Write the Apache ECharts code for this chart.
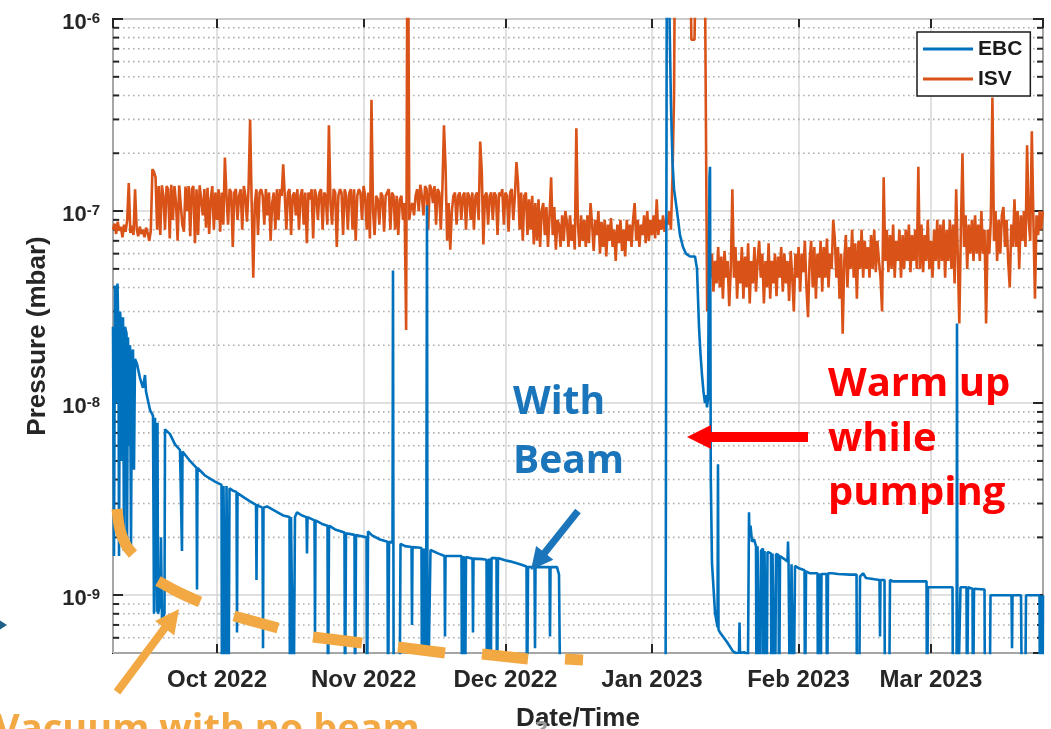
<!DOCTYPE html>
<html>
<head>
<meta charset="utf-8">
<script src="https://cdn.jsdelivr.net/npm/echarts@6/dist/echarts.min.js"></script>
<style>
  html, body { margin: 0; padding: 0; background: #fff; }
  #chart { width: 1051px; height: 729px; }
</style>
</head>
<body>
<div id="chart"></div>
<script>
// Vacuum pressure log, Sep 2022 - Mar 2023: EBC and ISV gauges (mbar)
const DAY = 86400000;
const T0 = new Date(2022, 8, 9).getTime();   // start of the record
const SPAN_DAYS = 196.7;
const ISV_STEP_DAYS = 1 / 3;                 // ISV log sampled every 8 h

const seriesNames = ['EBC', 'ISV'];
const monthNames = ['Jan', 'Feb', 'Mar', 'Apr', 'May', 'Jun', 'Jul', 'Aug', 'Sep', 'Oct', 'Nov', 'Dec'];
const minorTickValues = [
  6e-10, 7e-10, 8e-10, 9e-10,
  2e-9, 3e-9, 4e-9, 5e-9, 6e-9, 7e-9, 8e-9, 9e-9,
  2e-8, 3e-8, 4e-8, 5e-8, 6e-8, 7e-8, 8e-8, 9e-8,
  2e-7, 3e-7, 4e-7, 5e-7, 6e-7, 7e-7, 8e-7, 9e-7
];

// ISV pressure, one reading per 8 h from the start of the record
const isvValues = [
  8.0e-8, 8.6e-8, 7.6e-8, 8.8e-8, 7.9e-8, 8.3e-8, 7.3e-8, 8.5e-8, 7.8e-8, 9.0e-8,
  1.4e-7, 7.7e-8, 8.4e-8, 7.5e-8, 1.3e-7, 8.1e-8, 7.4e-8, 8.3e-8, 7.6e-8, 8.0e-8,
  7.3e-8, 8.2e-8, 7.7e-8, 7.0e-8, 7.9e-8, 1.65e-7, 1.6e-7, 1.5e-7, 8.0e-8, 1.35e-7,
  7.5e-8, 1.36e-7, 1.2e-7, 8.0e-8, 1.35e-7, 1.3e-7, 7.2e-8, 1.37e-7, 9.0e-8, 1.35e-7,
  1.1e-7, 7.0e-8, 1.36e-7, 1.35e-7, 8.5e-8, 7.8e-8, 1.34e-7, 1.0e-7, 1.35e-7, 7.4e-8,
  1.3e-7, 1.35e-7, 6.8e-8, 1.3e-7, 7.5e-8, 1.36e-7, 1.35e-7, 9.5e-8, 1.3e-7, 8.2e-8,
  1.32e-7, 7.6e-8, 1.15e-7, 1.35e-7, 8.0e-8, 1.25e-7, 9.0e-8, 1.3e-7, 7.8e-8, 1.25e-7,
  8.5e-8, 1.9e-7, 1.2e-7, 8.5e-8, 1.3e-7, 1.25e-7, 6.5e-8, 1.25e-7, 1.3e-7, 9.0e-8,
  1.2e-7, 1.3e-7, 8.0e-8, 1.35e-7, 1.2e-7, 8.8e-8, 1.3e-7, 3.0e-7, 1.1e-7, 4.5e-8,
  1.1e-7, 1.3e-7, 7.5e-8, 1.25e-7, 1.3e-7, 1.2e-7, 8.5e-8, 1.3e-7, 9.5e-8, 1.25e-7,
  7.0e-8, 1.1e-7, 1.25e-7, 8.0e-8, 1.3e-7, 9.0e-8, 1.3e-7, 1.2e-7, 1.75e-7, 1.2e-7,
  8.0e-8, 1.25e-7, 1.3e-7, 7.5e-8, 1.2e-7, 1.25e-7, 9.5e-8, 1.3e-7, 8.0e-8, 1.2e-7,
  1.3e-7, 8.5e-8, 1.25e-7, 6.8e-8, 1.25e-7, 1.15e-7, 1.3e-7, 7.2e-8, 1.3e-7, 1.2e-7,
  9.0e-8, 1.25e-7, 1.3e-7, 8.0e-8, 1.25e-7, 1.2e-7, 8.5e-8, 2.8e-7, 1.1e-7, 8.5e-8,
  1.3e-7, 1.25e-7, 6.5e-8, 1.2e-7, 1.3e-7, 1.25e-7, 7.5e-8, 1.3e-7, 1.2e-7, 8.0e-8,
  1.25e-7, 1.3e-7, 8.0e-8, 1.3e-7, 7.0e-8, 1.2e-7, 1.3e-7, 1.25e-7, 9.0e-8, 1.35e-7,
  1.2e-7, 8.0e-8, 1.25e-7, 7.2e-8, 3.8e-7, 1.0e-7, 7.5e-8, 1.2e-7, 1.15e-7, 8.5e-8,
  1.25e-7, 1.2e-7, 7.8e-8, 1.2e-7, 1.25e-7, 1.3e-7, 8.0e-8, 1.25e-7, 1.2e-7, 8.0e-8,
  1.2e-7, 7.5e-8, 1.15e-7, 1.2e-7, 9.0e-8, 1.1e-7, 2.4e-8, 1.0e-5, 9.0e-8, 1.05e-7,
  1.1e-7, 9.5e-8, 1.2e-7, 1.3e-7, 1.0e-7, 1.37e-7, 1.2e-7, 9.5e-8, 1.35e-7, 1.3e-7,
  8.0e-8, 1.37e-7, 1.3e-7, 1.1e-7, 1.35e-7, 8.5e-8, 1.3e-7, 1.25e-7, 8.0e-8, 1.3e-7,
  2.8e-7, 1.7e-7, 7.0e-8, 1.1e-7, 6.3e-8, 1.0e-7, 1.2e-7, 1.25e-7, 8.5e-8, 1.2e-7,
  1.25e-7, 9.0e-8, 1.2e-7, 1.25e-7, 8.0e-8, 1.25e-7, 1.2e-7, 9.0e-8, 1.25e-7, 8.0e-8,
  1.2e-7, 1.25e-7, 9.0e-8, 2.3e-7, 1.6e-7, 6.7e-8, 1.2e-7, 1.25e-7, 8.5e-8, 1.2e-7,
  1.25e-7, 9.0e-8, 1.25e-7, 1.2e-7, 7.5e-8, 1.25e-7, 1.2e-7, 1.3e-7, 8.5e-8, 1.25e-7,
  1.2e-7, 7.8e-8, 1.25e-7, 1.3e-7, 9.0e-8, 1.2e-7, 1.8e-7, 1.4e-7, 8.0e-8, 1.25e-7,
  7.0e-8, 1.2e-7, 1.25e-7, 7.5e-8, 1.15e-7, 8.0e-8, 1.2e-7, 6.7e-8, 1.1e-7, 7.0e-8,
  1.15e-7, 6.5e-8, 1.0e-7, 1.1e-7, 7.5e-8, 1.05e-7, 6.5e-8, 9.5e-8, 1.5e-7, 7.5e-8,
  1.05e-7, 6.3e-8, 9.0e-8, 8.5e-8, 6.5e-8, 9.5e-8, 7.0e-8, 1.0e-7, 8.8e-8, 6.5e-8,
  9.5e-8, 7.0e-8, 8.5e-8, 6.3e-8, 2.7e-7, 8.5e-8, 6.5e-8, 9.5e-8, 7.0e-8, 9.0e-8,
  6.5e-8, 9.5e-8, 6.8e-8, 1.1e-7, 8.5e-8, 6.2e-8, 9.0e-8, 7.5e-8, 1.0e-7, 6.0e-8,
  8.8e-8, 6.5e-8, 9.0e-8, 5.8e-8, 8.5e-8, 7.0e-8, 9.2e-8, 6.5e-8, 8.0e-8, 5.5e-8,
  8.5e-8, 6.8e-8, 9.0e-8, 6.2e-8, 8.0e-8, 5.8e-8, 9.0e-8, 7.0e-8, 8.5e-8, 6.5e-8,
  9.0e-8, 1.1e-7, 7.0e-8, 9.0e-8, 6.5e-8, 8.5e-8, 7.5e-8, 9.5e-8, 6.8e-8, 1.0e-7,
  7.0e-8, 9.0e-8, 7.5e-8, 9.5e-8, 7.2e-8, 1.15e-7, 7.5e-8, 9.0e-8, 8.0e-8, 9.5e-8,
  7.8e-8, 9.0e-8, 8.5e-8, 1.0e-7, 8.0e-8, 1.5e-7, 4.0e-7, 1.0e-5, 1.0e-5, 1.0e-5,
  1.0e-5, 1.0e-5, 1.0e-5, 1.0e-5, 1.0e-5, 1.0e-5, 1.0e-5, 7.8e-7, 7.8e-7, 7.8e-7,
  7.8e-7, 1.0e-5, 1.0e-5, 1.0e-5, 1.0e-5, 1.0e-5, 1.0e-5, 3.0e-8, 5.5e-8, 4.5e-8,
  6.0e-8, 3.8e-8, 5.5e-8, 4.2e-8, 6.5e-8, 4.0e-8, 5.8e-8, 3.5e-8, 6.2e-8, 4.5e-8,
  5.5e-8, 3.2e-8, 5.0e-8, 1.3e-7, 4.5e-8, 6.5e-8, 3.5e-8, 5.5e-8, 4.2e-8, 6.5e-8,
  3.5e-8, 5.8e-8, 4.0e-8, 6.8e-8, 3.3e-8, 5.5e-8, 4.2e-8, 6.5e-8, 3.8e-8, 5.5e-8,
  7.0e-8, 4.5e-8, 6.0e-8, 3.3e-8, 5.5e-8, 4.0e-8, 6.8e-8, 3.5e-8, 5.5e-8, 4.2e-8,
  6.0e-8, 3.6e-8, 5.8e-8, 4.5e-8, 6.5e-8, 3.8e-8, 6.0e-8, 4.2e-8, 5.5e-8, 3.4e-8,
  6.2e-8, 4.5e-8, 3.0e-8, 6.0e-8, 4.5e-8, 6.5e-8, 3.8e-8, 6.0e-8, 4.8e-8, 7.0e-8,
  4.0e-8, 2.8e-8, 5.5e-8, 7.0e-8, 4.0e-8, 6.5e-8, 3.5e-8, 6.0e-8, 4.5e-8, 7.0e-8,
  3.8e-8, 6.5e-8, 4.5e-8, 7.2e-8, 4.0e-8, 6.0e-8, 5.0e-8, 9.0e-8, 7.2e-8, 4.5e-8,
  6.5e-8, 3.5e-8, 6.0e-8, 2.3e-8, 5.5e-8, 7.5e-8, 4.0e-8, 6.5e-8, 5.0e-8, 8.0e-8,
  4.5e-8, 6.8e-8, 3.5e-8, 7.0e-8, 5.0e-8, 8.0e-8, 4.5e-8, 7.0e-8, 5.0e-8, 6.5e-8,
  4.5e-8, 7.5e-8, 5.0e-8, 8.0e-8, 4.8e-8, 7.0e-8, 5.5e-8, 4.5e-8, 3.0e-8, 1.5e-7,
  5.5e-8, 8.0e-8, 4.8e-8, 7.5e-8, 5.0e-8, 8.5e-8, 4.5e-8, 7.0e-8, 5.5e-8, 8.0e-8,
  4.5e-8, 7.5e-8, 5.0e-8, 8.0e-8, 5.5e-8, 8.5e-8, 4.8e-8, 7.5e-8, 5.5e-8, 8.0e-8,
  5.0e-8, 1.7e-7, 5.0e-8, 8.5e-8, 4.8e-8, 7.5e-8, 5.5e-8, 9.0e-8, 5.0e-8, 7.0e-8,
  4.5e-8, 8.0e-8, 5.5e-8, 9.0e-8, 5.0e-8, 8.5e-8, 5.5e-8, 9.0e-8, 4.5e-8, 8.0e-8,
  5.5e-8, 9.0e-8, 5.0e-8, 8.5e-8, 4.2e-8, 1.3e-7, 6.0e-8, 2.6e-8, 8.0e-8, 2.0e-7,
  6.5e-8, 9.5e-8, 5.0e-8, 8.5e-8, 6.0e-8, 9.0e-8, 5.5e-8, 9.5e-8, 6.0e-8, 8.5e-8,
  5.5e-8, 1.0e-7, 6.0e-8, 8.0e-8, 2.6e-8, 8.0e-8, 6.0e-8, 9.0e-8, 3.9e-7, 7.0e-8,
  1.0e-7, 5.5e-8, 9.0e-8, 6.0e-8, 9.5e-8, 1.05e-7, 6.5e-8, 9.0e-8, 5.5e-8, 4.0e-8,
  8.5e-8, 6.5e-8, 1.15e-7, 6.5e-8, 1.0e-7, 5.0e-8, 9.5e-8, 7.0e-8, 1.0e-7, 6.5e-8,
  2.2e-7, 9.0e-8, 7.0e-8, 2.6e-7, 9.0e-8, 3.5e-8, 9.5e-8, 7.5e-8, 1.0e-7, 8.0e-8,
  1.0e-7
];

// EBC pressure as [days since start, mbar]; 2e-10 marks readings below the scale
const ebcPoints = [
  [0, 2.5e-8], [0.21, 1.6e-9], [0.42, 4.1e-8], [0.74, 1.0e-8], [0.95, 4.2e-8], [1.16, 2.2e-8],
  [1.27, 1.6e-9], [1.48, 3.0e-8], [1.69, 2.6e-8], [1.90, 5e-9], [2.12, 2.8e-8], [2.33, 1.7e-9],
  [2.54, 2.5e-8], [2.86, 2.3e-8], [2.96, 1.7e-9], [3.17, 2.2e-8], [3.38, 6e-9], [3.60, 2.0e-8],
  [3.81, 1.8e-9], [4.02, 1.8e-8], [4.23, 1.9e-8], [4.44, 4.5e-9], [4.65, 1.7e-8], [5.08, 1.6e-8],
  [5.71, 1.35e-8], [6.35, 1.2e-8], [6.77, 1.4e-8], [6.98, 1.15e-8], [7.83, 9.2e-9], [8.46, 8.6e-9],
  [8.67, 8.0e-10], [8.88, 8.4e-9], [9.31, 8.2e-10], [9.41, 7.9e-9], [9.52, 8e-10], [9.94, 9e-10],
  [10.15, 2e-9], [10.36, 7.5e-10], [10.89, 8e-10], [11.00, 7.3e-9], [12.06, 6.9e-9], [13.11, 6.1e-9],
  [14.17, 5.7e-9], [14.49, 5.6e-9], [14.59, 1.7e-9], [14.70, 5.6e-9], [16.29, 5.0e-9], [17.66, 4.6e-9],
  [17.77, 1.07e-9], [17.87, 4.6e-9], [19.46, 4.2e-9], [21.57, 3.9e-9], [22.95, 3.75e-9], [23.05, 2e-10],
  [23.37, 3.7e-9], [23.79, 2e-10], [24.01, 3.7e-9], [24.43, 2e-10], [24.64, 3.6e-9], [25.38, 3.5e-9],
  [26.12, 3.45e-9], [26.23, 6.4e-10], [26.33, 3.4e-9], [27.92, 3.2e-9], [28.98, 3.08e-9], [30.25, 2.95e-9],
  [30.35, 1.2e-9], [30.46, 2.95e-9], [31.62, 2.85e-9], [31.73, 5.3e-10], [31.83, 2.85e-9], [32.57, 2.9e-9],
  [34.26, 2.75e-9], [35.96, 2.6e-9], [37.33, 2.55e-9], [37.44, 2e-10], [37.65, 2.55e-9], [38.18, 2e-10],
  [38.49, 2.55e-9], [38.92, 2.7e-9], [39.98, 2.6e-9], [40.93, 2.55e-9], [41.03, 1.65e-9], [41.14, 2.55e-9],
  [42.62, 2.45e-9], [42.73, 6.1e-10], [42.83, 2.45e-9], [44.21, 2.35e-9], [45.37, 2.3e-9], [45.47, 2e-10],
  [45.69, 2.3e-9], [46.96, 2.2e-9], [48.96, 2.12e-9], [49.07, 2e-10], [49.28, 2.1e-9], [51.08, 2.06e-9],
  [51.19, 2e-10], [51.40, 2.06e-9], [53.62, 2.0e-9], [53.72, 2e-10], [53.94, 2.15e-9], [54.78, 2.05e-9],
  [56.47, 1.95e-9], [58.06, 1.9e-9], [58.17, 2e-10], [58.38, 1.9e-9], [59.12, 1.88e-9], [59.22, 4.9e-8],
  [59.37, 2e-10], [60.60, 2e-10], [60.81, 1.85e-9], [61.76, 1.8e-9], [63.14, 1.78e-9], [63.24, 7.0e-10],
  [63.35, 1.78e-9], [64.51, 1.77e-9], [65.25, 1.76e-9], [65.36, 2e-10], [65.78, 1.75e-9], [66.10, 1.75e-9],
  [66.20, 2e-10], [66.41, 1.07e-7], [66.54, 2e-10], [66.94, 2e-10], [67.15, 1.72e-9], [68.74, 1.65e-9],
  [70.12, 1.6e-9], [70.22, 6.1e-10], [70.33, 1.6e-9], [72.34, 1.6e-9], [73.71, 1.6e-9], [73.82, 2e-10],
  [74.13, 1.6e-9], [74.45, 2e-10], [74.66, 1.58e-9], [76.04, 1.55e-9], [76.14, 6.4e-10], [76.25, 1.55e-9],
  [78.26, 1.54e-9], [79.00, 1.53e-9], [79.10, 2e-10], [79.53, 1.55e-9], [79.85, 2e-10], [80.06, 1.56e-9],
  [81.11, 1.56e-9], [81.22, 2e-10], [81.43, 1.56e-9], [82.91, 1.52e-9], [83.97, 1.5e-9], [86.08, 1.45e-9],
  [87.46, 1.41e-9], [87.57, 2e-10], [87.78, 1.4e-9], [89.15, 1.4e-9], [89.26, 5.3e-10], [89.36, 1.4e-9],
  [92.32, 1.4e-9], [92.43, 6.1e-10], [92.54, 1.4e-9], [93.91, 1.4e-9], [94.33, 1.28e-9], [94.65, 2e-10],
  [116.86, 2e-10], [117.18, 1e-5], [117.71, 1e-6], [118.02, 3.5e-7], [118.34, 1.8e-7], [118.66, 1.3e-7],
  [119.29, 1.0e-7], [119.92, 7.5e-8], [120.56, 6.5e-8], [121.19, 6.0e-8], [122.04, 5.8e-8], [123.10, 5.8e-8],
  [123.52, 5.0e-8], [123.94, 2.5e-8], [124.26, 1.8e-8], [124.58, 1.4e-8], [124.89, 1.15e-8], [125.21, 1.0e-8],
  [125.42, 1.1e-8], [125.63, 9.5e-9], [125.85, 1.05e-8], [126.16, 1.5e-7], [126.27, 1.7e-7], [126.44, 4.0e-9],
  [126.69, 1.47e-9], [127.33, 8.1e-10], [127.86, 6.8e-10], [127.96, 4.8e-9], [128.07, 6.6e-10], [128.38, 6.4e-10],
  [129.86, 5.7e-10], [131.13, 5.1e-10], [131.76, 5.0e-10], [132.40, 5.0e-10], [132.51, 7.2e-10], [132.62, 5.0e-10],
  [133.46, 5.05e-10], [134.31, 4.9e-10], [134.52, 2.7e-9], [134.62, 2.0e-9], [134.84, 2.3e-9], [135.15, 1.9e-9],
  [135.58, 1.95e-9], [136.00, 1.8e-9], [136.11, 2e-10], [136.32, 1.8e-9], [136.85, 2e-10], [137.06, 1.7e-9],
  [137.48, 1.75e-9], [137.59, 2e-10], [137.80, 1.7e-9], [138.22, 2e-10], [138.43, 1.68e-9], [139.17, 1.65e-9],
  [139.28, 2e-10], [139.49, 1.65e-9], [140.02, 2e-10], [140.23, 1.64e-9], [140.76, 1.62e-9], [140.87, 2e-10],
  [141.08, 1.6e-9], [142.66, 1.5e-9], [142.77, 1.9e-9], [142.88, 1.5e-9], [143.19, 2e-10], [143.51, 1.45e-9],
  [143.93, 2e-10], [144.25, 1.42e-9], [145.09, 1.38e-9], [146.26, 1.35e-9], [146.36, 2e-10], [146.58, 1.33e-9],
  [147.42, 1.3e-9], [149.01, 1.3e-9], [149.11, 2e-10], [149.43, 1.3e-9], [149.64, 2e-10], [149.85, 1.29e-9],
  [150.91, 1.29e-9], [151.02, 2e-10], [151.23, 1.3e-9], [152.07, 1.3e-9], [153.34, 1.29e-9], [155.88, 1.28e-9],
  [157.26, 1.28e-9], [157.36, 2e-10], [157.79, 2e-10], [158.00, 1.25e-9], [158.63, 1.3e-9], [159.27, 1.23e-9],
  [162.12, 1.2e-9], [162.23, 6.1e-10], [162.33, 1.2e-9], [163.18, 1.2e-9], [163.28, 2e-10], [164.13, 2e-10],
  [164.34, 1.2e-9], [164.98, 1.18e-9], [172.06, 1.18e-9], [172.17, 2e-10], [172.38, 1.1e-9], [177.56, 1.1e-9],
  [177.67, 2e-10], [178.41, 2e-10], [178.51, 2.6e-8], [178.62, 2e-10], [179.04, 2e-10], [179.25, 1.1e-9],
  [180.52, 1.1e-9], [180.63, 2e-10], [180.84, 1.1e-9], [181.79, 1.08e-9], [181.90, 2e-10], [182.11, 1.08e-9],
  [184.33, 1.07e-9], [184.43, 2e-10], [185.39, 2e-10], [185.60, 1.0e-9], [190.04, 1.0e-9], [190.15, 5.3e-10],
  [190.25, 1.0e-9], [192.05, 1.0e-9], [192.26, 2e-10], [192.90, 2e-10], [193.11, 1.0e-9], [195.96, 1.0e-9],
  [196.07, 2e-10], [196.28, 1.0e-9], [196.60, 2e-10], [196.70, 1.0e-9]
];

const FONT = 'Liberation Sans';
const INK = '#262626';
const EBC_COLOR = '#0072BD';
const ISV_COLOR = '#D95319';
const NOTE_FONT = '"Open Sans"';
const ORANGE = '#F2A843';
const LINE_W = 2.6;

const xMin = T0;
const xMax = T0 + SPAN_DAYS * DAY;

const isvData = isvValues.map((v, i) => [T0 + i * ISV_STEP_DAYS * DAY, v]);
const ebcData = ebcPoints.map(([d, v]) => [T0 + d * DAY, v]);
const minorData = minorTickValues.map(v => [xMin, v]);

function monthLabel(value) {
  const d = new Date(value);
  return monthNames[d.getMonth()] + ' ' + d.getFullYear();
}

function decadeLabel(value) {
  const e = Math.log10(value);
  const r = Math.round(e);
  if (Math.abs(e - r) > 1e-6) return '';
  return '{b|10}{s|' + r + '}';
}

// dotted minor grid plus short inner ticks on both sides of the log axis
function renderMinor(params, api) {
  const y = api.coord([api.value(0), api.value(1)])[1];
  const cs = params.coordSys;
  const x0 = cs.x, x1 = cs.x + cs.width;
  return {
    type: 'group',
    children: [
      { type: 'line', shape: { x1: x0, y1: y, x2: x1, y2: y },
        style: { stroke: '#b0b0b0', lineWidth: 1.6, lineDash: [1.6, 3.4] } },
      { type: 'line', shape: { x1: x0, y1: y, x2: x0 + 6, y2: y },
        style: { stroke: INK, lineWidth: 2 } },
      { type: 'line', shape: { x1: x1 - 6, y1: y, x2: x1, y2: y },
        style: { stroke: INK, lineWidth: 2 } }
    ]
  };
}

function arrowPoints(x1, y1, x2, y2, shaft, headLen, headW) {
  const dx = x2 - x1, dy = y2 - y1, len = Math.hypot(dx, dy);
  const ux = dx / len, uy = dy / len, nx = -uy, ny = ux;
  const bx = x2 - ux * headLen, by = y2 - uy * headLen;
  const s = shaft / 2, h = headW / 2;
  return [
    [x1 + nx * s, y1 + ny * s], [bx + nx * s, by + ny * s], [bx + nx * h, by + ny * h],
    [x2, y2],
    [bx - nx * h, by - ny * h], [bx - nx * s, by - ny * s], [x1 - nx * s, y1 - ny * s]
  ];
}

// hand-drawn dashed trace marking the pressure floor without beam
const noBeamDashes = [
  [[117, 509], [120, 530], [126, 545], [133, 554]],
  [[158, 581], [178, 592], [200, 602]],
  [[234, 616], [278, 628]],
  [[313, 637], [362, 643]],
  [[398, 647], [445, 653]],
  [[482, 654], [528, 659]],
  [[565, 659], [583, 660]]
];

const textStyleBase = { fontFamily: FONT, fontWeight: 'bold', color: INK };

const option = {
  animation: false,
  backgroundColor: '#ffffff',
  grid: {
    left: 113, top: 19, right: 8, bottom: 76,
    outerBoundsMode: 'none',
    containLabel: false,
    show: true, borderColor: '#1a1a1a', borderWidth: 2, backgroundColor: '#ffffff'
  },
  legend: {
    data: seriesNames,
    orient: 'vertical',
    left: 917, top: 32,
    padding: [5, 8, 5, 6],
    itemGap: 6,
    icon: 'rect',
    itemWidth: 50,
    itemHeight: 3,
    backgroundColor: '#ffffff',
    borderColor: '#1a1a1a',
    borderWidth: 1.5,
    borderRadius: 0,
    textStyle: { fontFamily: FONT, fontWeight: 'bold', fontSize: 21, color: '#1a1a1a', lineHeight: 24 }
  },
  xAxis: [
    {
      type: 'time',
      min: xMin, max: xMax,
      minInterval: 28 * DAY, maxInterval: 31 * DAY,
      name: 'Date/Time',
      nameLocation: 'middle',
      nameGap: 53,
      nameTextStyle: Object.assign({ fontSize: 26 }, textStyleBase),
      axisLine: { show: false },
      axisTick: { show: true, inside: true, length: 9, lineStyle: { color: INK, width: 2 } },
      axisLabel: Object.assign({
        fontSize: 24, margin: 15, hideOverlap: false,
        showMinLabel: false, showMaxLabel: false,
        formatter: monthLabel
      }, textStyleBase),
      splitLine: { show: true, lineStyle: { color: '#d6d6d6', width: 1.5 } }
    },
    {
      type: 'time',
      position: 'top',
      min: xMin, max: xMax,
      minInterval: 28 * DAY, maxInterval: 31 * DAY,
      axisLine: { show: false },
      axisTick: { show: true, inside: true, length: 9, lineStyle: { color: INK, width: 2 } },
      axisLabel: { show: false },
      splitLine: { show: false }
    }
  ],
  yAxis: [
    {
      type: 'log',
      logBase: 10,
      min: 5e-10, max: 1e-6,
      name: 'Pressure (mbar)',
      nameLocation: 'middle',
      nameRotate: 90,
      nameGap: 57,
      nameTextStyle: Object.assign({ fontSize: 26 }, textStyleBase),
      axisLine: { show: false },
      axisTick: { show: true, inside: true, length: 10, lineStyle: { color: INK, width: 2 } },
      axisLabel: {
        margin: 13,
        showMinLabel: false,
        padding: [7, 0, 0, 0],
        formatter: decadeLabel,
        rich: {
          b: { fontFamily: FONT, fontWeight: 'bold', fontSize: 22, color: INK, lineHeight: 22, verticalAlign: 'bottom' },
          s: { fontFamily: FONT, fontWeight: 'bold', fontSize: 15, color: INK, lineHeight: 14, padding: [0, 0, 14, 0], verticalAlign: 'top' }
        }
      },
      splitLine: { show: true, lineStyle: { color: '#d6d6d6', width: 1.5 } }
    },
    {
      type: 'log',
      logBase: 10,
      position: 'right',
      min: 5e-10, max: 1e-6,
      axisLine: { show: false },
      axisTick: { show: true, inside: true, length: 10, lineStyle: { color: INK, width: 2 } },
      axisLabel: { show: false },
      splitLine: { show: false }
    }
  ],
  series: [
    {
      name: 'EBC',
      type: 'line',
      data: ebcData,
      showSymbol: false,
      symbol: 'none',
      lineStyle: { color: EBC_COLOR, width: LINE_W },
      itemStyle: { color: EBC_COLOR },
      clip: true,
      z: 4
    },
    {
      name: 'ISV',
      type: 'line',
      data: isvData,
      showSymbol: false,
      symbol: 'none',
      lineStyle: { color: ISV_COLOR, width: LINE_W },
      itemStyle: { color: ISV_COLOR },
      clip: true,
      z: 3
    },
    {
      name: 'minor',
      type: 'custom',
      data: minorData,
      renderItem: renderMinor,
      silent: true,
      z: 1
    }
  ],
  graphic: [
    ...noBeamDashes.map(pts => ({
      type: 'polyline', z: 100, silent: true,
      shape: { points: pts, smooth: 0.3 },
      style: { stroke: ORANGE, lineWidth: 11, fill: null, lineCap: 'butt' }
    })),
    { type: 'polygon', z: 100, silent: true,
      shape: { points: arrowPoints(117, 692, 179, 609, 8, 24, 24) }, style: { fill: ORANGE } },
    { type: 'polygon', z: 100, silent: true,
      shape: { points: arrowPoints(578, 511, 531, 570, 7, 22, 22) }, style: { fill: '#1B75BB' } },
    { type: 'polygon', z: 100, silent: true,
      shape: { points: arrowPoints(808, 437, 687, 437, 10, 24, 24) }, style: { fill: '#FF0000' } },
    { type: 'polygon', z: 100, silent: true,
      shape: { points: [[-16, 610], [7, 625], [-16, 640]] }, style: { fill: '#1F5F88' } },
    { type: 'text', z: 101, silent: true,
      style: { text: 'With', x: 513, y: 403, font: 'bold 39px ' + NOTE_FONT, fill: '#1B75BB', verticalAlign: 'middle' } },
    { type: 'text', z: 101, silent: true,
      style: { text: 'Beam', x: 513, y: 462, font: 'bold 39px ' + NOTE_FONT, fill: '#1B75BB', verticalAlign: 'middle' } },
    { type: 'text', z: 101, silent: true,
      style: { text: 'Warm up', x: 828, y: 385, font: 'bold 40px ' + NOTE_FONT, fill: '#FF0000', verticalAlign: 'middle' } },
    { type: 'text', z: 101, silent: true,
      style: { text: 'while', x: 828, y: 440, font: 'bold 40px ' + NOTE_FONT, fill: '#FF0000', verticalAlign: 'middle' } },
    { type: 'text', z: 101, silent: true,
      style: { text: 'pumping', x: 828, y: 494, font: 'bold 40px ' + NOTE_FONT, fill: '#FF0000', verticalAlign: 'middle' } },
    { type: 'text', z: 101, silent: true,
      style: { text: 'Vacuum with no beam', x: -5, y: 730, font: 'bold 38px ' + NOTE_FONT, fill: ORANGE, verticalAlign: 'middle' } },
    { type: 'text', z: 101, silent: true,
      style: { text: '?', x: 536, y: 731, font: 'bold 24px ' + NOTE_FONT, fill: '#9a9a9a', verticalAlign: 'middle' } }
  ]
};

const chart = echarts.init(document.getElementById('chart'), null, { renderer: 'canvas' });
chart.setOption(option);
</script>
</body>
</html>
